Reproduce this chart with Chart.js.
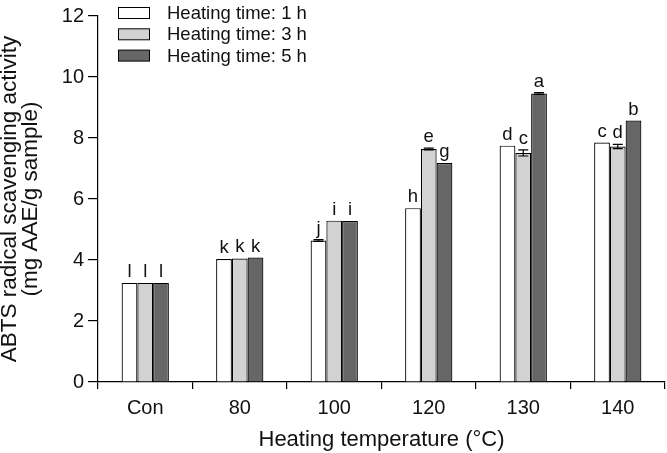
<!DOCTYPE html>
<html>
<head>
<meta charset="utf-8">
<script src="https://cdn.jsdelivr.net/npm/chart.js@4.4.1/dist/chart.umd.min.js"></script>
<style>
html, body { margin: 0; padding: 0; background: #fff; }
#wrap { width: 667px; height: 453px; }
</style>
</head>
<body>
<div id="wrap"><canvas id="myChart"></canvas></div>
<script>
const temps = ['Con', '80', '100', '120', '130', '140'];
const seriesNames = ['Heating time: 1 h', 'Heating time: 3 h', 'Heating time: 5 h'];
const time1 = [3.25, 4.03, 4.64, 5.70, 7.75, 7.85];
const time3 = [3.25, 4.05, 5.29, 7.64, 7.51, 7.72];
const time5 = [3.25, 4.08, 5.28, 7.18, 9.46, 8.57];
const err1 = [0, 0, 0.03, 0, 0, 0];
const err3 = [0, 0, 0, 0.03, 0.10, 0.07];
const err5 = [0, 0, 0, 0, 0.03, 0];
const letters1 = ['l', 'k', 'j', 'h', 'd', 'c'];
const letters3 = ['l', 'k', 'i', 'e', 'c', 'd'];
const letters5 = ['l', 'k', 'i', 'g', 'a', 'b'];
const fills = ['#ffffff', '#d2d2d2', '#666666'];

const FONT = 'Liberation Sans, Arial, sans-serif';

// error bars + letters drawn through the y scale
const barExtras = {
    id: 'barExtras',
    afterDatasetsDraw(chart) {
        const ctx = chart.ctx;
        const y = chart.scales.y;
        ctx.save();
        chart.data.datasets.forEach((ds, i) => {
            const meta = chart.getDatasetMeta(i);
            meta.data.forEach((bar, j) => {
                const v = ds.data[j];
                const e = ds.errors[j];
                const top = y.getPixelForValue(v + e);
                if (e > 0) {
                    const bot = y.getPixelForValue(v - e);
                    ctx.strokeStyle = '#000';
                    ctx.lineWidth = 1.2;
                    ctx.beginPath();
                    ctx.moveTo(bar.x, top); ctx.lineTo(bar.x, bot);
                    ctx.moveTo(bar.x - 5, top); ctx.lineTo(bar.x + 5, top);
                    ctx.moveTo(bar.x - 5, bot); ctx.lineTo(bar.x + 5, bot);
                    ctx.stroke();
                }
                ctx.fillStyle = '#111';
                ctx.font = '18.5px ' + FONT;
                ctx.textAlign = 'center';
                ctx.textBaseline = 'alphabetic';
                ctx.fillText(ds.letters[j], bar.x, Math.min(top, bar.y) - 6);
            });
        });
        ctx.restore();
    }
};

// legend drawn in the upper left corner
const cornerLegend = {
    id: 'cornerLegend',
    afterDraw(chart) {
        const ctx = chart.ctx;
        ctx.save();
        chart.data.datasets.forEach((ds, i) => {
            const cy = 13 + i * 21.3;
            ctx.fillStyle = ds.backgroundColor;
            ctx.fillRect(118, cy - 5.5, 31, 11);
            ctx.strokeStyle = '#000';
            ctx.lineWidth = 1;
            ctx.strokeRect(118.5, cy - 5.5, 31, 11);
            ctx.fillStyle = '#111';
            ctx.font = '18.5px ' + FONT;
            ctx.textAlign = 'left';
            ctx.textBaseline = 'middle';
            ctx.fillText(ds.label, 167, cy + 1);
        });
        ctx.restore();
    }
};

const ctx = document.getElementById('myChart');

new Chart(ctx, {
    type: 'bar',
    data: {
        labels: temps,
        datasets: [
            { label: seriesNames[0], data: time1, errors: err1, letters: letters1, backgroundColor: fills[0] },
            { label: seriesNames[1], data: time3, errors: err3, letters: letters3, backgroundColor: fills[1] },
            { label: seriesNames[2], data: time5, errors: err5, letters: letters5, backgroundColor: fills[2] }
        ].map(d => Object.assign(d, {
            borderColor: '#000',
            borderWidth: 1.2,
            categoryPercentage: 0.5,
            barPercentage: 1.0
        }))
    },
    options: {
        responsive: true,
        maintainAspectRatio: false,
        animation: false,
        layout: { padding: { top: 15, right: 2, left: 0, bottom: 0 } },
        plugins: {
            legend: { display: false },
            tooltip: { enabled: false }
        },
        scales: {
            x: {
                offset: true,
                grid: {
                    offset: true,
                    drawOnChartArea: false,
                    color: '#000',
                    tickLength: 7,
                    lineWidth: 1.2
                },
                border: { color: '#000', width: 1.2 },
                ticks: { color: '#111', font: { family: FONT, size: 20 }, padding: 7 },
                title: {
                    display: true,
                    text: 'Heating temperature (\u00b0C)',
                    color: '#111',
                    font: { family: FONT, size: 22 },
                    padding: { top: 6, bottom: 0 }
                },
                afterFit(scale) { scale.height = 71; }
            },
            y: {
                min: 0,
                max: 12,
                ticks: { stepSize: 2, color: '#111', font: { family: FONT, size: 20 }, padding: 4 },
                grid: {
                    drawOnChartArea: false,
                    color: '#000',
                    tickLength: 10,
                    lineWidth: 1.2
                },
                border: { color: '#000', width: 1.2 },
                title: {
                    display: true,
                    text: ['ABTS radical scavenging activity', '(mg AAE/g sample)'],
                    color: '#111',
                    font: { family: FONT, size: 22.5, lineHeight: 0.9 },
                    padding: { top: 0, bottom: 0 }
                },
                afterFit(scale) { scale.width = 98; }
            }
        }
    },
    plugins: [barExtras, cornerLegend]
});
</script>
</body>
</html>
